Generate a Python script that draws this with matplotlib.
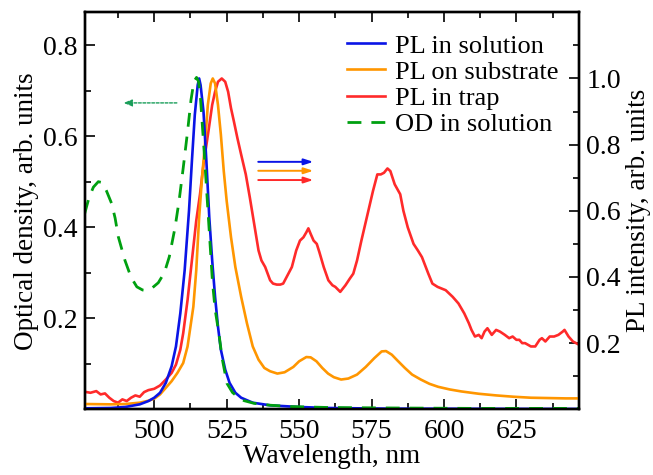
import matplotlib
matplotlib.use("Agg")
import matplotlib.pyplot as plt
from matplotlib.ticker import MultipleLocator

plt.rcParams['font.family'] = ['Liberation Serif', 'DejaVu Serif']

# PL in solution (right axis)
blue_x = [476, 485, 490, 495, 498, 500, 502, 504, 506, 507.5, 509, 510.5, 512, 513, 514, 515, 515.5,
          516, 517, 518, 519, 520, 521, 522, 523, 524.5, 526, 528, 530, 534, 540, 550, 560, 580, 646.7]
blue_y = [0.003, 0.004, 0.007, 0.015, 0.025, 0.035, 0.05, 0.08, 0.13, 0.19, 0.29, 0.42, 0.60, 0.75, 0.89, 0.98, 1.0,
          0.98, 0.90, 0.75, 0.58, 0.45, 0.34, 0.25, 0.18, 0.12, 0.08, 0.05, 0.035, 0.02, 0.012, 0.007, 0.004, 0.002, 0.001]

# PL on substrate (right axis)
orange_x = [476, 485, 490, 495, 498, 500, 502, 504, 506, 508, 510, 511.5, 512.5, 513.5, 514.5, 515.5, 516.5,
            517.5, 518.5, 519.5, 520.2, 521, 522, 523, 524, 525, 526.5, 528, 530, 532, 534, 536, 538, 540,
            542.5, 545, 548, 550, 552.5, 554, 556, 558, 560, 562, 564.5, 567, 570, 573, 576, 578.5, 580,
            582, 584, 586.5, 589, 592, 595, 598, 602, 606, 612, 618, 624, 630, 636, 642, 646.7]
orange_y = [0.016, 0.015, 0.016, 0.02, 0.026, 0.032, 0.045, 0.065, 0.085, 0.11, 0.14, 0.19, 0.25, 0.31, 0.42, 0.58, 0.70,
            0.80, 0.92, 0.985, 1.0, 0.985, 0.92, 0.83, 0.72, 0.63, 0.52, 0.43, 0.34, 0.26, 0.19, 0.15, 0.125, 0.115,
            0.108, 0.112, 0.128, 0.145, 0.158, 0.157, 0.145, 0.125, 0.108, 0.097, 0.09, 0.093, 0.105, 0.128, 0.155, 0.175, 0.176,
            0.165, 0.147, 0.125, 0.105, 0.09, 0.077, 0.068, 0.06, 0.054, 0.047, 0.042, 0.038, 0.035, 0.034, 0.033, 0.033]

# PL in trap (right axis)
red_x = [476, 478, 480, 481.5, 483, 484.5, 486, 487.5, 489, 490.5, 492, 493.5, 495, 496.5, 498, 500, 502, 504,
         506, 507.5, 509, 510, 511.5, 513, 514.5, 515.8, 517, 518.7, 520, 521, 522, 523.3, 524.5, 525.5, 526.5,
         527.5, 528.7, 530, 531.6, 533, 534.5, 536, 537, 538.3, 540, 541, 542.3, 543.5, 544.5, 546, 547.5, 549,
         550.3, 551.5, 552.5, 553.2, 554, 555, 556.1, 557, 558.5, 560.1, 561.5, 562.5, 564.2, 566, 567.5, 568.7,
         570, 571.5, 573.9, 575.5, 577, 578.2, 579.3, 580.5, 581.5, 583, 584.9, 586, 587.5, 589.5, 591, 592.4,
         594.6, 596, 597.8, 600.6, 603, 605, 607, 608.6, 609.5, 610.7, 612, 613, 614, 615, 616.5, 618, 619.3,
         621, 622.5, 623.7, 625, 626, 627, 628, 630, 631.5, 633, 633.8, 635, 636.5, 638, 639.5, 641, 641.6, 643,
         644.5, 646.7]
red_y = [0.053, 0.05, 0.055, 0.045, 0.048, 0.035, 0.025, 0.02, 0.03, 0.025, 0.035, 0.042, 0.038, 0.052, 0.058, 0.062, 0.072, 0.09,
         0.11, 0.135, 0.18, 0.23, 0.33, 0.45, 0.57, 0.65, 0.74, 0.84, 0.92, 0.96, 0.99, 1.0, 0.99, 0.96, 0.91,
         0.87, 0.82, 0.77, 0.71, 0.64, 0.56, 0.48, 0.45, 0.43, 0.39, 0.38, 0.377, 0.377, 0.38, 0.405, 0.43, 0.48,
         0.51, 0.52, 0.535, 0.547, 0.53, 0.51, 0.50, 0.475, 0.43, 0.39, 0.375, 0.37, 0.355, 0.375, 0.395, 0.41,
         0.45, 0.51, 0.60, 0.66, 0.71, 0.71, 0.715, 0.728, 0.72, 0.68, 0.65, 0.60, 0.55, 0.50, 0.48, 0.46,
         0.41, 0.38, 0.37, 0.36, 0.34, 0.32, 0.29, 0.26, 0.24, 0.22, 0.225, 0.215, 0.235, 0.245, 0.225, 0.24, 0.235,
         0.225, 0.215, 0.22, 0.21, 0.21, 0.2, 0.2, 0.19, 0.19, 0.21, 0.215, 0.205, 0.22, 0.22, 0.225, 0.235, 0.24, 0.22,
         0.205, 0.195]

# OD in solution (left axis)
od_x = [476, 477.5, 479, 480.7, 482, 483.5, 485.3, 486.5, 487.6, 489.9, 492, 494, 496, 497.4, 499, 501.4, 503.5,
        505.2, 507.2, 508.6, 510, 511.5, 512.7, 513.7, 514.6, 515.3, 516, 517.2, 518, 518.7, 519.5, 520.1, 521,
        522.3, 523.5, 525.1, 527, 528.7, 531, 534.5, 540, 547.4, 560, 580, 610, 646.7]
od_y = [0.43, 0.465, 0.488, 0.50, 0.498, 0.48, 0.452, 0.42, 0.379, 0.327, 0.29, 0.269, 0.262, 0.261, 0.265, 0.278, 0.30,
        0.335, 0.40, 0.459, 0.53, 0.61, 0.68, 0.72, 0.729, 0.72, 0.68, 0.569, 0.49, 0.42, 0.34, 0.28, 0.22,
        0.167, 0.11, 0.057, 0.037, 0.028, 0.019, 0.013, 0.009, 0.006, 0.004, 0.003, 0.002, 0.002]

x_ticks = [500, 525, 550, 575, 600, 625]
od_ticks = [0.2, 0.4, 0.6, 0.8]
pl_ticks = [0.2, 0.4, 0.6, 0.8, 1.0]

fig = plt.figure(figsize=(6.53, 4.75), dpi=100)
ax = fig.add_axes([0.1297, 0.1383, 0.7574, 0.8358])  # PL axis (drawn right)
ax2 = ax.twinx()                                       # OD axis (drawn left, on top)

ax.plot(red_x, red_y, color='#ff2a2a', lw=1.9, label='PL in trap', zorder=2)
ax.plot(orange_x, orange_y, color='#ff9600', lw=1.9, label='PL on substrate', zorder=3)
ax.plot(blue_x, blue_y, color='#0a14e6', lw=1.9, label='PL in solution', zorder=4)
ax2.plot(od_x, od_y, color='#00a010', lw=2.0, ls=(0, (5, 3.6)), label='OD in solution')

ax.set_xlim(476, 646.7)
ax.set_ylim(0, 1.2)
ax2.set_ylim(0, 0.872)

# swap sides: PL right, OD left
ax.yaxis.tick_right()
ax.yaxis.set_label_position('right')
ax2.yaxis.tick_left()
ax2.yaxis.set_label_position('left')

ax.set_xticks(x_ticks)
ax.xaxis.set_minor_locator(MultipleLocator(12.5))
ax.set_yticks(pl_ticks)
ax.yaxis.set_minor_locator(MultipleLocator(0.1))
ax2.set_yticks(od_ticks)
ax2.yaxis.set_minor_locator(MultipleLocator(0.1))

for a in (ax, ax2):
    a.tick_params(which='both', direction='in', width=1.2, labelsize=20, pad=5)
    a.tick_params(which='major', length=7.5)
    a.tick_params(which='minor', length=4.2)
    for s in a.spines.values():
        s.set_linewidth(1.7)
ax.tick_params(axis='x', which='both', top=True, pad=7)
ax.tick_params(axis='y', which='both', left=False, right=True)
ax2.tick_params(axis='y', which='both', left=True, right=False)

ax.set_xlabel('Wavelength, nm', fontsize=19.5, labelpad=0)
ax.set_ylabel('PL intensity, arb. units', fontsize=19.5, rotation=90, labelpad=4)
ax2.set_ylabel('Optical density, arb. units', fontsize=19.5, labelpad=3)

# direction arrows
ax2.annotate('', xy=(489.4, 0.673), xytext=(507.8, 0.673),
             arrowprops=dict(arrowstyle='-|>,head_length=0.5,head_width=0.2', color='#1a9e5a',
                             lw=1.0, ls=(0, (2, 1.2)), shrinkA=0, shrinkB=0))
for yv, c in [(0.748, '#0a14e6'), (0.721, '#ff9600'), (0.693, '#ff2a2a')]:
    ax.annotate('', xy=(554.9, yv), xytext=(535.9, yv),
                arrowprops=dict(arrowstyle='-|>,head_length=0.55,head_width=0.18', color=c,
                                lw=1.4, shrinkA=0, shrinkB=0))

h1, l1 = ax.get_legend_handles_labels()
h2, l2 = ax2.get_legend_handles_labels()
order = [2, 1, 0]
handles = [h1[i] for i in order] + h2
labels = [l1[i] for i in order] + l2
ax2.legend(handles, labels, loc='upper left', bbox_to_anchor=(0.5297, 0.945), frameon=False,
           fontsize=19, handlelength=1.45, handletextpad=0.37, labelspacing=0.1,
           borderpad=0, borderaxespad=0)

fig.savefig('out.png', dpi=100)
